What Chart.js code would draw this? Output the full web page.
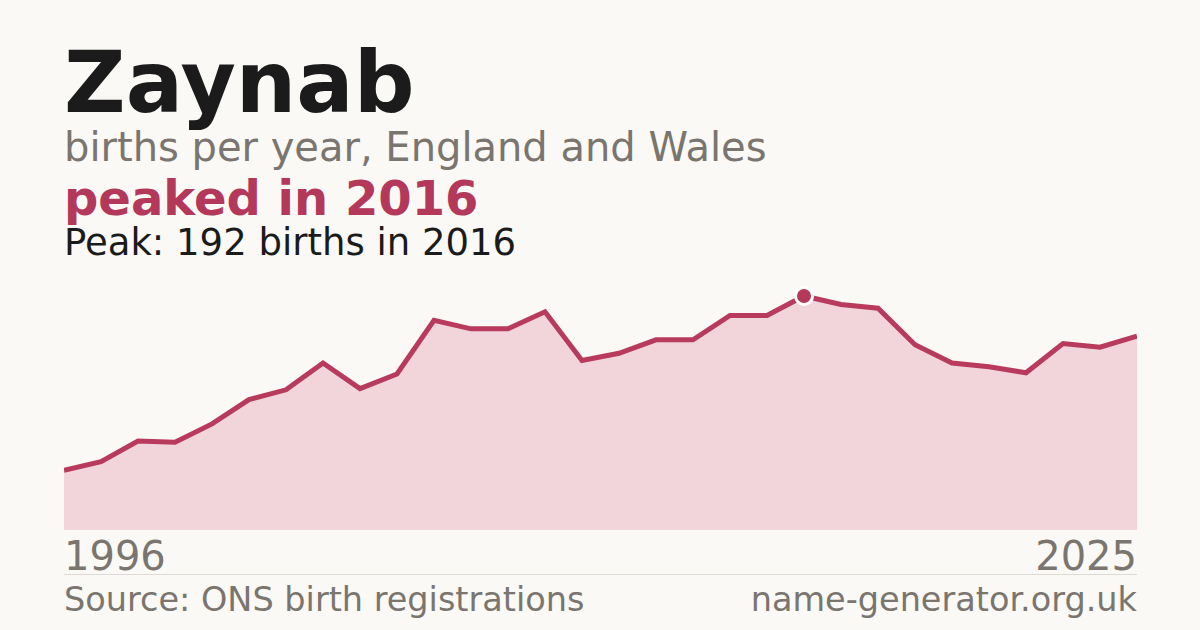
<!DOCTYPE html>
<html lang="en">
<head>
    <meta charset="UTF-8">
    <title>Zaynab births</title>
    <script src="https://cdn.jsdelivr.net/npm/chart.js"></script>
    <style>
        html, body { margin: 0; padding: 0; }
        body {
            width: 1200px;
            height: 630px;
            background: #faf9f5;
            font-family: "DejaVu Sans", sans-serif;
            position: relative;
            overflow: hidden;
        }
        .txt { position: absolute; left: 64px; line-height: 1; white-space: nowrap; }
        #name { top: 40px; font-size: 85px; font-weight: bold; color: #1b1b1b; }
        #sub { top: 127px; font-size: 40px; color: #7a756e; }
        #headline { top: 174px; font-size: 48px; font-weight: bold; color: #b3385a; }
        #peak { top: 224px; font-size: 37px; color: #1b1b1b; }
        #yearStart, #yearEnd { top: 536px; font-size: 40px; color: #7a756e; }
        #yearEnd { left: auto; right: 63px; }
        #rule { position: absolute; left: 64px; top: 574px; width: 1073px; height: 1px; background: #dedad3; }
        #source, #site { top: 583px; font-size: 33.5px; color: #7a756e; }
        #site { left: auto; right: 63px; }
        #chartBox { position: absolute; left: 64px; top: 260px; width: 1073px; height: 270px; }
    </style>
</head>
<body>
    <div class="txt" id="name">Zaynab</div>
    <div class="txt" id="sub">births per year, England and Wales</div>
    <div class="txt" id="headline">peaked in 2016</div>
    <div class="txt" id="peak">Peak: 192 births in 2016</div>
    <div id="chartBox"><canvas id="births"></canvas></div>
    <div class="txt" id="yearStart"></div>
    <div class="txt" id="yearEnd"></div>
    <div id="rule"></div>
    <div class="txt" id="source">Source: ONS birth registrations</div>
    <div class="txt" id="site">name-generator.org.uk</div>

    <script>
        const years = [1996, 1997, 1998, 1999, 2000, 2001, 2002, 2003, 2004, 2005,
                       2006, 2007, 2008, 2009, 2010, 2011, 2012, 2013, 2014, 2015,
                       2016, 2017, 2018, 2019, 2020, 2021, 2022, 2023, 2024, 2025];
        const births = [49, 56, 73, 72, 87, 107, 115, 137, 116, 128,
                        172, 165, 165, 179, 139, 145, 156, 156, 176, 176,
                        192, 185, 182, 152, 137, 134, 129, 153, 150, 159];
        const axisMax = 221.5;

        const peakValue = Math.max(...births);
        const peakIndex = births.indexOf(peakValue);

        document.getElementById('yearStart').textContent = years[0];
        document.getElementById('yearEnd').textContent = years[years.length - 1];

        const ctx = document.getElementById('births').getContext('2d');
        new Chart(ctx, {
            type: 'line',
            data: {
                labels: years,
                datasets: [{
                    data: births,
                    borderColor: '#b83b5d',
                    borderWidth: 5,
                    backgroundColor: '#f1d5db',
                    fill: 'origin',
                    tension: 0,
                    borderJoinStyle: 'miter',
                    pointRadius: births.map((v, i) => i === peakIndex ? 8.5 : 0),
                    pointBackgroundColor: '#b3385a',
                    pointBorderColor: '#ffffff',
                    pointBorderWidth: 3,
                    clip: false
                }]
            },
            options: {
                responsive: true,
                maintainAspectRatio: false,
                animation: false,
                layout: { padding: 0 },
                plugins: {
                    legend: { display: false },
                    tooltip: { enabled: false }
                },
                scales: {
                    x: { display: false, offset: false },
                    y: { display: false, min: 0, max: axisMax }
                }
            }
        });
    </script>
</body>
</html>
